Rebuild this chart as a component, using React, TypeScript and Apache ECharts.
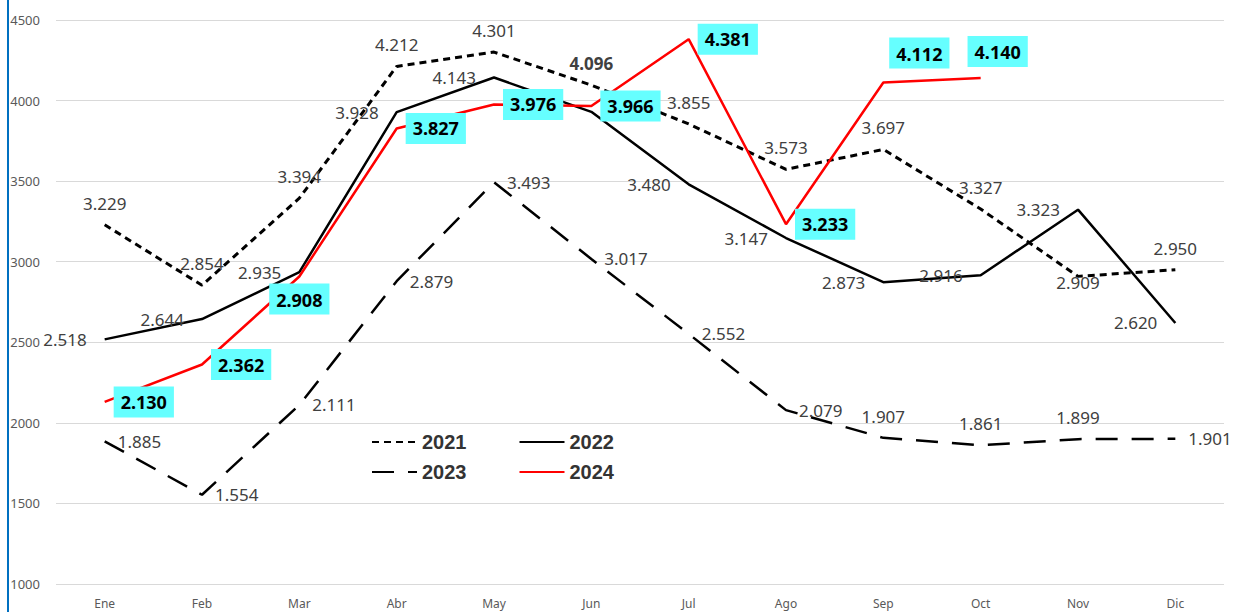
import React, { useEffect, useRef } from "react";
import * as echarts from "echarts";

const months = ["Ene", "Feb", "Mar", "Abr", "May", "Jun", "Jul", "Ago", "Sep", "Oct", "Nov", "Dic"];
const y2021 = [3229, 2854, 3394, 4212, 4301, 4096, 3855, 3573, 3697, 3327, 2909, 2950];
const y2022 = [2518, 2644, 2935, 3928, 4143, 3930, 3480, 3147, 2873, 2916, 3323, 2620];
const y2023 = [1885, 1554, 2111, 2879, 3493, 3017, 2552, 2079, 1907, 1861, 1899, 1901];
const y2024 = [2130, 2362, 2908, 3827, 3976, 3966, 4381, 3233, 4112, 4140];

const pos2021 = ["top", "top", "top", "top", "top", "top", "top", "top", "top", "top", "inside", "top"];
const pos2022 = ["left", "left", "left", "left", "left", "none", "left", "left", "left", "left", "left", "left"];
const pos2023 = ["right", "right", "right", "right", "right", "right", "right", "right", "top", "top", "top", "right"];
const pos2024 = ["right", "right", "bottom", "right", "right", "right", "right", "right", "top", "top"];

const fmt = (v: number) => (v / 1000).toFixed(3);

export default function App() {
  const ref = useRef<HTMLDivElement>(null);
  useEffect(() => {
    const chart = echarts.init(ref.current!, null, { renderer: "svg" });
    const normalLabel = {
      show: true,
      fontFamily: "Noto Sans",
      fontSize: 17,
      color: "#404040",
      formatter: (p: any) => fmt(p.value),
    };
    const dist: Record<string, number> = { top: 13, left: 18, right: 13, bottom: 8, inside: 0 };
    const mk = (vals: number[], pos: string[], extra: (i: number) => any = () => ({})) =>
      vals.map((v, i) =>
        pos[i] === "none"
          ? { value: v, label: { show: false } }
          : { value: v, label: { position: pos[i], distance: dist[pos[i]], ...extra(i) } }
      );
    const legendBase = {
      left: 366,
      itemWidth: 45,
      itemHeight: 10,
      itemGap: 52,
      itemStyle: { opacity: 0 },
      textStyle: { fontWeight: "bold", fontSize: 20, color: "#333", fontFamily: "Liberation Sans" },
    };
    const common = {
      type: "line",
      symbol: "circle",
      symbolSize: 0.01,
      showSymbol: true,
    };
    chart.setOption({
      animation: false,
      grid: { left: 56, right: 12, top: 20, bottom: 28 },
      xAxis: {
        type: "category",
        data: months,
        boundaryGap: true,
        axisLine: { show: false },
        axisTick: { show: false },
        axisLabel: { color: "#595959", fontSize: 12, fontFamily: "Noto Sans", margin: 13 },
      },
      yAxis: {
        type: "value",
        min: 1000,
        max: 4500,
        interval: 500,
        axisLine: { show: false },
        axisTick: { show: false },
        splitLine: { lineStyle: { color: "#d9d9d9", width: 1 } },
        axisLabel: {
          color: "#595959",
          fontSize: 13,
          fontFamily: "Noto Sans",
          margin: 16,
          formatter: (v: number) => String(v),
        },
      },
      legend: [
        { ...legendBase, data: ["2021", "2022"], top: 427 },
        { ...legendBase, data: ["2023", "2024"], top: 457 },
      ],
      graphic: [
        { type: "line", shape: { x1: 8, y1: 0, x2: 8, y2: 612 }, style: { stroke: "#0070C0", lineWidth: 2 } },
      ],
      series: [
        {
          ...common,
          name: "2021",
          data: mk(y2021, pos2021, (i) => (i === 5 ? { fontWeight: "bold" } : {})),
          lineStyle: { color: "#000", width: 3, type: [7, 5] },
          itemStyle: { color: "#000" },
          label: normalLabel,
          labelLayout: (p: any) => (p.dataIndex === 10 ? { dy: 6, hideOverlap: false } : { hideOverlap: false }),
          z: 2,
        },
        {
          ...common,
          name: "2022",
          data: mk(y2022, pos2022),
          lineStyle: { color: "#000", width: 2.5, type: "solid" },
          itemStyle: { color: "#000" },
          label: normalLabel,
          labelLayout: { hideOverlap: false },
          z: 2,
        },
        {
          ...common,
          name: "2023",
          data: mk(y2023, pos2023),
          lineStyle: { color: "#000", width: 2.5, type: [22, 14] },
          itemStyle: { color: "#000" },
          label: normalLabel,
          labelLayout: { hideOverlap: false },
          z: 2,
        },
        {
          ...common,
          name: "2024",
          data: mk(y2024, pos2024, (i) => (pos2024[i] === "right" ? { distance: 9 } : { distance: 7 })),
          lineStyle: { color: "#ff0000", width: 2.5 },
          itemStyle: { color: "#ff0000" },
          label: {
            show: true,
            fontFamily: "Noto Sans",
            fontSize: 18,
            fontWeight: "bold",
            color: "#000",
            backgroundColor: "#66ffff",
            padding: [7, 7, 6, 7],
            formatter: (p: any) => fmt(p.value),
          },
          labelLayout: (p: any) =>
            p.dataIndex === 8
              ? { dx: 36, dy: -7, hideOverlap: false }
              : p.dataIndex === 9
              ? { dx: 17, dy: -4, hideOverlap: false }
              : { hideOverlap: false },
          z: 3,
        },
      ],
    });
    return () => chart.dispose();
  }, []);
  return <div ref={ref} style={{ position: "fixed", left: 0, top: 0, width: 1236, height: 612, background: "#fff" }} />;
}
